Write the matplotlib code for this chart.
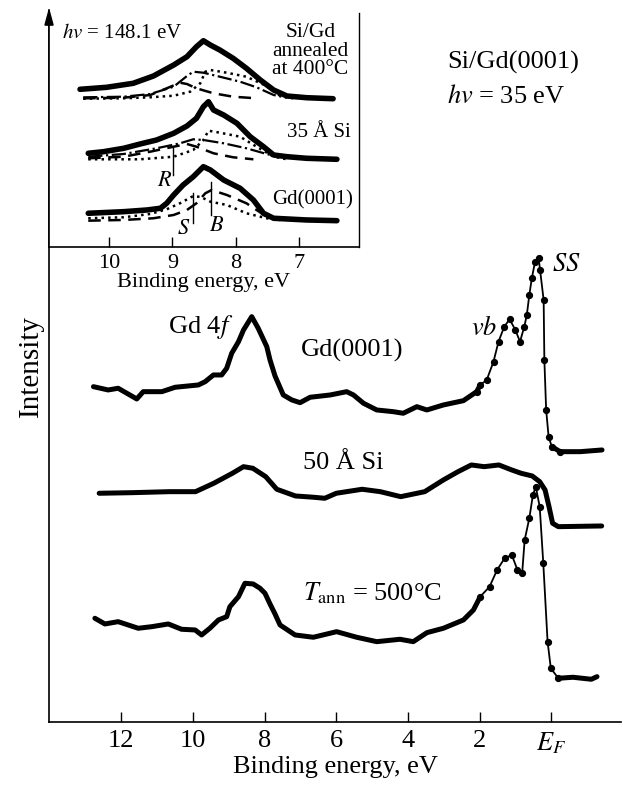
import numpy as np
import matplotlib
matplotlib.use("Agg")
import matplotlib.pyplot as plt
from matplotlib.patches import FancyArrow

plt.rcParams["font.family"] = ["Liberation Serif", "DejaVu Serif"]
plt.rcParams["mathtext.fontset"] = "stix"

# --- main panel: hv = 35 eV spectra (binding energy, eV / intensity, arb. units)
gd_e = [12.78, 12.37, 12.09, 11.57, 11.39, 10.87, 10.50, 9.85, 9.66, 9.43,
        9.20, 9.06, 8.92, 8.73, 8.59, 8.36, 8.18, 7.94, 7.85, 7.71, 7.48,
        7.24, 7.01, 6.73, 6.17, 5.71, 5.52, 5.24, 4.87, 4.41, 4.13, 3.75,
        3.47, 3.01, 2.45, 2.08, 1.98, 1.80, 1.61, 1.47, 1.31, 1.16, 1.00,
        0.87, 0.75, 0.68, 0.61, 0.54, 0.45, 0.35, 0.31, 0.21, 0.19, 0.14,
        0.07, -0.02, -0.25, -0.81, -1.42]
gd_i = [335.3, 332.0, 333.7, 323.0, 330.3, 330.3, 334.7, 337.0, 340.3, 347.0,
        347.0, 353.7, 368.7, 380.3, 392.0, 405.3, 393.7, 375.3, 362.0, 346.0,
        327.0, 322.0, 319.3, 324.7, 327.0, 330.3, 327.0, 318.7, 312.0, 310.3,
        308.7, 315.3, 312.0, 317.0, 321.3, 330.3, 337.0, 342.0, 360.3, 380.3,
        395.3, 402.7, 392.0, 380.3, 395.3, 407.0, 427.0, 443.7, 460.3, 463.7,
        452.0, 422.0, 362.0, 312.0, 284.7, 275.3, 270.3, 270.3, 272.0]

si50_e = [12.62, 11.69, 10.66, 9.93, 9.42, 8.90, 8.59, 8.33, 7.97, 7.66,
          7.14, 6.63, 6.32, 6.00, 5.28, 4.77, 4.20, 3.53, 3.01, 2.60, 2.23,
          1.87, 1.46, 1.10, 0.84, 0.53, 0.32, 0.17, 0.06, -0.04, -0.20, -1.41]
si50_i = [228.7, 229.3, 230.3, 230.3, 238.7, 248.7, 255.3, 253.7, 245.3, 232.7,
          226.0, 224.7, 223.7, 228.7, 232.7, 230.3, 225.3, 230.3, 242.0, 250.3,
          257.0, 255.3, 257.0, 252.0, 248.7, 246.0, 240.3, 232.0, 215.3, 198.7,
          195.3, 196.0]

ann_e = [12.74, 12.46, 12.09, 11.53, 11.15, 10.69, 10.32, 9.94, 9.76, 9.53,
         9.29, 9.06, 8.97, 8.73, 8.55, 8.32, 8.13, 7.99, 7.85, 7.71, 7.57,
         7.15, 6.64, 5.99, 5.43, 4.87, 4.22, 3.85, 3.47, 3.01, 2.45, 2.17,
         1.98, 1.72, 1.51, 1.30, 1.10, 0.94, 0.81, 0.74, 0.61, 0.51, 0.43,
         0.32, 0.22, 0.10, 0.01, -0.20, -0.61, -1.12, -1.28]
ann_i = [103.7, 98.0, 100.3, 93.7, 95.3, 98.0, 92.7, 92.0, 87.0, 93.7,
         102.0, 105.3, 115.3, 125.3, 138.7, 138.0, 133.7, 128.7, 118.0, 108.0,
         97.0, 87.0, 84.7, 90.3, 84.7, 80.3, 82.7, 80.3, 89.3, 93.7, 102.0,
         112.0, 125.3, 135.3, 152.0, 163.7, 167.0, 152.0, 148.7, 182.0, 203.7,
         227.0, 235.3, 215.3, 158.7, 80.3, 53.7, 43.7, 44.7, 42.7, 45.3]

main_ticks = [12, 10, 8, 6, 4, 2, 0]
main_ticklabels = ["12", "10", "8", "6", "4", "2", "$E_F$"]

# --- inset: hv = 148.1 eV, Gd 4f region with fitted components
top_e = [10.46, 10.04, 9.62, 9.30, 8.98, 8.77, 8.62, 8.51, 8.40, 8.25, 8.04,
         7.83, 7.61, 7.40, 7.19, 6.88, 6.46]
top_i = [157.7, 159.7, 163.7, 171.0, 182.0, 190.3, 200.3, 206.3, 202.0, 197.0,
         188.7, 178.7, 167.0, 157.0, 151.0, 149.3, 148.3]
top_dd_e = [10.41, 9.77, 9.35, 8.98, 8.77, 8.67, 8.51, 8.25, 7.93, 7.67, 7.40, 7.19]
top_dd_i = [149.7, 150.3, 153.0, 160.3, 171.0, 175.3, 174.3, 170.3, 165.3, 159.7, 152.0, 149.3]
top_da_e = [10.41, 9.77, 9.35, 9.09, 8.88, 8.77, 8.62, 8.35, 8.04, 7.67]
top_da_i = [148.7, 149.3, 152.0, 158.7, 164.3, 163.0, 158.7, 153.7, 150.3, 148.7]
top_do_e = [10.41, 9.77, 9.35, 8.98, 8.72, 8.56, 8.48, 8.40, 8.14, 7.83, 7.51, 7.30, 7.09]
top_do_i = [148.3, 148.7, 149.7, 151.3, 155.3, 163.7, 175.3, 177.0, 174.3, 170.3, 161.0, 151.3, 148.7]

mid_e = [10.33, 10.09, 9.77, 9.51, 9.25, 8.98, 8.77, 8.62, 8.51, 8.43, 8.35,
         8.19, 7.98, 7.77, 7.56, 7.40, 7.19, 6.88, 6.40]
mid_i = [93.7, 95.3, 98.7, 103.0, 107.0, 113.7, 121.0, 128.7, 140.3, 145.3, 137.0,
         132.0, 123.7, 110.3, 100.3, 92.0, 90.3, 88.7, 87.7]
mid_dd_e = [10.33, 9.77, 9.25, 8.88, 8.67, 8.51, 8.19, 7.83, 7.51, 7.30]
mid_dd_i = [90.3, 93.0, 98.7, 103.7, 107.7, 107.0, 103.7, 98.7, 93.0, 89.7]
mid_da_e = [10.33, 9.77, 9.35, 8.98, 8.77, 8.62, 8.35, 8.04, 7.72]
mid_da_i = [88.7, 90.3, 95.3, 100.3, 103.0, 100.3, 93.7, 89.7, 87.7]
mid_do_e = [10.33, 9.51, 8.98, 8.67, 8.51, 8.43, 8.25, 7.93, 7.67, 7.40, 7.19]
mid_do_i = [87.7, 87.7, 90.3, 97.0, 107.0, 116.3, 114.3, 110.3, 100.3, 90.3, 87.7]

bot_e = [10.33, 9.77, 9.40, 9.19, 9.09, 8.98, 8.83, 8.67, 8.51, 8.40, 8.19,
         7.93, 7.72, 7.56, 7.40, 6.88, 6.40]
bot_i = [33.7, 35.3, 37.0, 38.7, 43.7, 52.0, 62.0, 70.3, 80.3, 77.0, 67.0,
         58.7, 47.0, 33.7, 28.7, 27.0, 26.3]
bot_do_e = [10.33, 9.77, 9.35, 9.09, 8.88, 8.69, 8.56, 8.40, 8.14, 7.83, 7.51, 7.30]
bot_do_i = [28.7, 29.7, 33.0, 37.7, 43.7, 50.3, 50.3, 45.3, 42.0, 33.7, 28.7, 27.0]
bot_da_e = [10.33, 9.77, 9.30, 8.98, 8.77, 8.62, 8.48, 8.38, 8.14, 7.83, 7.51, 7.30]
bot_da_i = [26.3, 27.0, 28.7, 32.0, 37.0, 43.7, 53.7, 57.0, 52.0, 43.7, 30.3, 27.0]

inset_ticks = [10, 9, 8, 7]
# marker lines: label, energy, line bottom, line top
markers = [("R", 8.99, 72.0, 98.7), ("S", 8.68, 23.7, 53.7), ("B", 8.39, 32.0, 65.3)]


def draw_spectrum(ax, e, i, steep=None):
    """Dense-dot look: thick line; thin beaded line over the steep Fermi-edge part."""
    e = np.asarray(e)
    i = np.asarray(i)
    thick = dict(color="black", lw=3.6, solid_capstyle="round",
                 solid_joinstyle="round")
    if steep is None:
        ax.plot(e, i, "-", **thick)
        return
    lo, hi = steep
    left = e >= hi
    right = e <= lo
    ax.plot(e[left], i[left], "-", **thick)
    ax.plot(e[right], i[right], "-", **thick)
    n = np.arange(len(e))
    mid = n[(e <= hi + 0.2) & (e >= lo - 0.25)]
    ax.plot(e[mid], i[mid], "-o", color="black", lw=1.3, ms=4.2)


fig = plt.figure(figsize=(6.23, 7.85), dpi=100)

ax = fig.add_axes([0.0787, 0.0803, 0.9181, 0.9070])
draw_spectrum(ax, gd_e, gd_i, steep=(0.0, 1.9))
draw_spectrum(ax, si50_e, si50_i)
draw_spectrum(ax, ann_e, ann_i, steep=(0.0, 1.9))

ax.set_xlim(14.02, -1.95)
ax.set_ylim(0, 712)
ax.set_xticks(main_ticks)
ax.set_xticklabels(main_ticklabels)
ax.set_yticks([])
ax.tick_params(axis="x", direction="in", length=7, width=1, labelsize=19, pad=6)
for s in ("top", "right"):
    ax.spines[s].set_visible(False)
for s in ("left", "bottom"):
    ax.spines[s].set_linewidth(1.2)
ax.set_xlabel("Binding energy, eV", fontsize=19, labelpad=0)
ax.set_ylabel("Intensity", fontsize=21, labelpad=4)

ax.text(2.9, 660, "Si/Gd(0001)", fontsize=19, va="center")
ax.text(2.9, 625, "$hv$ = 35 eV", fontsize=19, va="center")
ax.text(10.71, 395, "Gd 4$f$", fontsize=19, va="center")
ax.text(6.99, 372, "Gd(0001)", fontsize=19, va="center")
ax.text(2.23, 394, "$vb$", fontsize=19, va="center")
ax.text(-0.03, 457, "$SS$", fontsize=19, va="center")
ax.text(6.94, 259, "50 Å Si", fontsize=19, va="center")
ax.text(6.94, 129, r"$T_{\rm ann}$ = 500°C", fontsize=19, va="center")

# y-axis arrow head at the top of the left spine
fig.patches.append(FancyArrow(
    0.0787, 0.968, 0, 0.019, width=0.0, head_width=0.013, head_length=0.019,
    length_includes_head=True, color="black", transform=fig.transFigure))

# --- inset
ins = fig.add_axes([0.0787, 0.6854, 0.4976, 0.2980])
ins.set_facecolor("white")
for e, i in ((top_e, top_i), (mid_e, mid_i), (bot_e, bot_i)):
    ins.plot(e, i, "-", color="black", lw=4, solid_capstyle="round",
             solid_joinstyle="round")
for e, i in ((top_dd_e, top_dd_i), (mid_dd_e, mid_dd_i)):
    ins.plot(e, i, "-.", color="black", lw=1.6)
for e, i in ((top_da_e, top_da_i), (mid_da_e, mid_da_i), (bot_da_e, bot_da_i)):
    ins.plot(e, i, "--", color="black", lw=1.8, dashes=(5, 3))
for e, i in ((top_do_e, top_do_i), (mid_do_e, mid_do_i), (bot_do_e, bot_do_i)):
    ins.plot(e, i, ":", color="black", lw=1.8)
for lab, e, y0, y1 in markers:
    ins.plot([e, e], [y0, y1], color="black", lw=1)
ins.text(9.12, 65.3, "$R$", fontsize=16, ha="center", va="center")
ins.text(8.82, 17, "$S$", fontsize=16, ha="center", va="center")
ins.text(8.30, 20.3, "$B$", fontsize=16, ha="center", va="center")

ins.set_xlim(10.95, 6.05)
ins.set_ylim(0, 234)
ins.set_xticks(inset_ticks)
ins.set_yticks([])
ins.tick_params(axis="x", direction="in", length=7, width=1, labelsize=16, pad=5)
ins.spines["top"].set_visible(False)
ins.spines["left"].set_linewidth(1.2)
ins.spines["bottom"].set_linewidth(1.2)
ins.spines["right"].set_linewidth(1.0)
ins.set_xlabel("Binding energy, eV", fontsize=16, labelpad=0)

ins.text(10.74, 214, "$hv$ = 148.1 eV", fontsize=15, va="center")
ins.text(6.82, 196, "Si/Gd\nannealed\nat 400°C", fontsize=15.5, ha="center",
         va="center", linespacing=0.95)
ins.text(7.19, 114, "35 Å Si", fontsize=15, va="center")
ins.text(7.42, 47, "Gd(0001)", fontsize=15, va="center")

fig.savefig("out.png", dpi=100)
